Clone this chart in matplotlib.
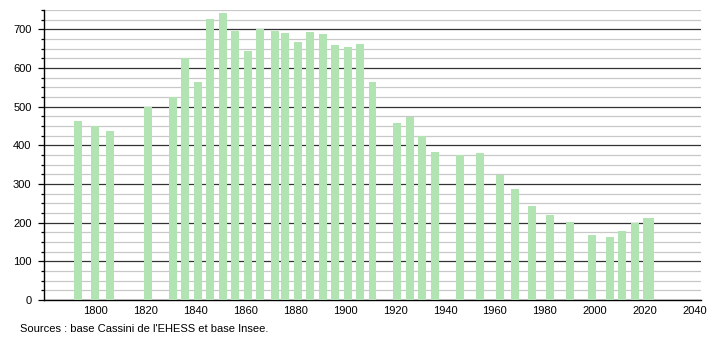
import matplotlib
matplotlib.use("Agg")
import matplotlib.pyplot as plt
from matplotlib.ticker import MultipleLocator

plt.rcParams['font.family'] = ['Liberation Sans', 'DejaVu Sans']

years = [1793, 1800, 1806, 1821, 1831, 1836, 1841, 1846, 1851, 1856, 1861, 1866,
         1872, 1876, 1881, 1886, 1891, 1896, 1901, 1906, 1911, 1921, 1926, 1931,
         1936, 1946, 1954, 1962, 1968, 1975, 1982, 1990, 1999, 2006, 2011, 2016,
         2021, 2022]
population = [464, 451, 436, 500, 526, 627, 565, 726, 743, 695, 643, 702,
              695, 690, 668, 692, 688, 659, 654, 661, 564, 459, 473, 425,
              383, 375, 380, 324, 287, 244, 220, 202, 169, 163, 179, 200,
              212, 212]
xticks = [1800, 1820, 1840, 1860, 1880, 1900, 1920, 1940, 1960, 1980, 2000, 2020, 2040]
source_text = "Sources : base Cassini de l'EHESS et base Insee."

fig = plt.figure(figsize=(7.10, 3.40), dpi=100)
ax = fig.add_axes([44/710, 1 - 300/340, (701-44)/710, 290/340])

ax.bar(years, population, width=3.2, color="#b2e3b2", zorder=3, linewidth=0)

ax.set_xlim(1779.5, 2042.5)
ax.set_ylim(0, 750)
ax.yaxis.set_major_locator(MultipleLocator(100))
ax.yaxis.set_minor_locator(MultipleLocator(25))
ax.set_xticks(xticks)
ax.grid(axis="y", which="minor", color="#c8c8c8", linewidth=0.9, zorder=1)
ax.grid(axis="y", which="major", color="#333333", linewidth=0.9, zorder=2)
ax.set_axisbelow(True)

for s in ["top", "right"]:
    ax.spines[s].set_visible(False)
ax.spines["left"].set_color("black")
ax.spines["bottom"].set_color("black")
ax.spines["left"].set_linewidth(1.0)
ax.spines["bottom"].set_linewidth(1.0)

ax.tick_params(axis="y", which="major", length=4, width=0.9, labelsize=8, pad=5, colors="black")
ax.tick_params(axis="y", which="minor", length=2.5, width=0.9)
ax.tick_params(axis="x", length=0, labelsize=8, pad=4)

fig.text(20/710, 1 - 329/340, source_text, fontsize=8, va="center", ha="left")

fig.savefig("out.png", dpi=100)
